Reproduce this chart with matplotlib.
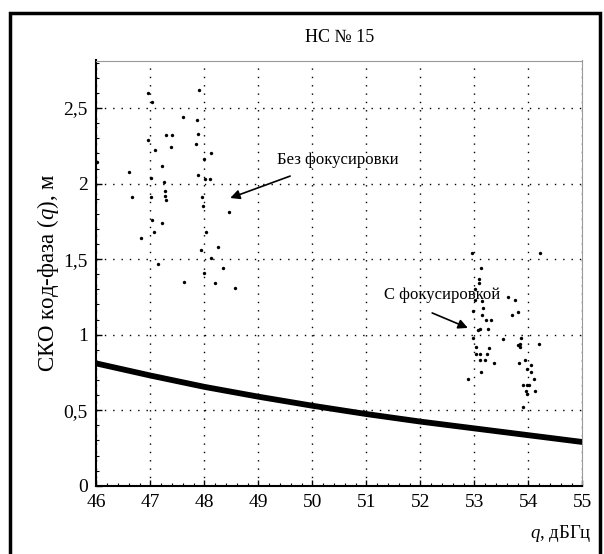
import matplotlib
matplotlib.use("Agg")
import matplotlib.pyplot as plt
from matplotlib.ticker import MultipleLocator, FixedLocator
from matplotlib.patches import Rectangle

plt.rcParams['font.family'] = ['Liberation Serif', 'DejaVu Serif']
plt.rcParams['mathtext.fontset'] = 'custom'
plt.rcParams['mathtext.it'] = 'Liberation Serif:italic'
plt.rcParams['mathtext.rm'] = 'Liberation Serif'

# "Без фокусировки" scatter
q_nofocus = [46.96, 47.03, 47.90, 47.61, 47.87, 46.96, 47.29, 47.41, 47.88, 47.08,
             47.38, 47.85, 48.12, 47.99, 46.01, 47.21, 46.61, 47.01, 47.88, 48.01,
             48.11, 47.25, 46.66, 47.01, 47.27, 47.27, 47.29, 47.95, 47.98, 48.45,
             47.04, 47.22, 47.07, 48.03, 46.83, 48.25, 47.93, 48.13, 47.14, 48.35,
             48.00, 47.62, 48.20, 48.56]
sko_nofocus = [2.60, 2.54, 2.62, 2.44, 2.42, 2.29, 2.32, 2.32, 2.33, 2.22,
               2.24, 2.26, 2.20, 2.16, 2.14, 2.12, 2.08, 2.04, 2.06, 2.03,
               2.03, 2.01, 1.91, 1.91, 1.95, 1.92, 1.89, 1.91, 1.85, 1.81,
               1.76, 1.74, 1.68, 1.68, 1.64, 1.58, 1.56, 1.51, 1.47, 1.44,
               1.41, 1.35, 1.34, 1.31]

# "С фокусировкой" scatter
q_focus = [52.96, 54.22, 53.12, 53.09, 53.08, 53.01, 53.01, 53.15, 53.16, 52.98,
           53.14, 53.21, 53.30, 53.63, 53.75, 53.81, 53.69, 53.11, 53.06, 53.25,
           52.98, 53.54, 53.87, 53.85, 54.20, 53.80, 53.85, 53.03, 53.27, 53.03,
           53.11, 53.23, 53.11, 53.19, 53.36, 53.94, 53.82, 54.05, 53.98, 54.05,
           53.13, 52.89, 54.11, 53.91, 53.98, 54.02, 53.95, 54.13, 53.98, 53.91]
sko_focus = [1.54, 1.54, 1.44, 1.37, 1.34, 1.30, 1.23, 1.22, 1.18, 1.16,
             1.13, 1.10, 1.10, 1.25, 1.23, 1.15, 1.13, 1.04, 1.03, 1.04,
             0.98, 0.97, 0.98, 0.94, 0.94, 0.93, 0.92, 0.92, 0.91, 0.87,
             0.87, 0.87, 0.83, 0.83, 0.81, 0.83, 0.81, 0.80, 0.77, 0.75,
             0.75, 0.71, 0.71, 0.67, 0.67, 0.67, 0.63, 0.63, 0.61, 0.52]

# theoretical curve
q_curve = [46, 47, 48, 49, 50, 51, 52, 53, 54, 55]
sko_curve = [0.81, 0.73, 0.655, 0.59, 0.53, 0.475, 0.425, 0.38, 0.335, 0.29]

x_ticks = [46, 47, 48, 49, 50, 51, 52, 53, 54, 55]
y_ticks = [0, 0.5, 1, 1.5, 2, 2.5]
y_tick_labels = ['0', '0,5', '1', '1,5', '2', '2,5']

W, H = 604, 554
fig = plt.figure(figsize=(W / 100, H / 100), dpi=100)
# outer frame
fig.patches.append(Rectangle((10 / W, -0.01), (600 - 10) / W, (H - 13) / H + 0.01,
                             transform=fig.transFigure, fill=False,
                             edgecolor='black', linewidth=2.5))

ax = fig.add_axes([96.3 / W, 1 - 485.8 / H, (582.3 - 96.3) / W, (485.8 - 60.5) / H])
ax.set_xlim(46, 55)
ax.set_ylim(0, 2.815)

ax.plot(q_curve, sko_curve, color='black', linewidth=4.2, solid_capstyle='butt', zorder=3)
ax.scatter(q_nofocus, sko_nofocus, s=6, color='black', zorder=4, linewidths=0)
ax.scatter(q_focus, sko_focus, s=6, color='black', zorder=4, linewidths=0)

ax.xaxis.set_major_locator(FixedLocator(x_ticks))
ax.yaxis.set_major_locator(FixedLocator(y_ticks))
ax.set_yticklabels(y_tick_labels)
ax.xaxis.set_minor_locator(MultipleLocator(0.2))
ax.yaxis.set_minor_locator(MultipleLocator(0.1))
ax.tick_params(axis='both', which='major', direction='in', length=4, width=1,
               labelsize=14, colors='black', pad=6)
ax.tick_params(axis='both', which='minor', direction='in', length=2, width=0.8)
ax.grid(True, which='major', linestyle=(0, (1, 5)), color='black', linewidth=1)

for side in ['left', 'bottom']:
    ax.spines[side].set_linewidth(1.5)
    ax.spines[side].set_color('black')
for side in ['top', 'right']:
    ax.spines[side].set_linewidth(0.8)
    ax.spines[side].set_color('#999999')

ax.set_title('НС № 15', fontsize=13, pad=13)
ax.set_ylabel('СКО код-фаза ($\\mathit{q}$), м', fontsize=16.5, labelpad=2)
fig.text(592 / W, 1 - 533 / H, '$\\mathit{q}$, дБГц', fontsize=13.5, ha='right', va='center')

ax.text(50.48, 2.157, 'Без фокусировки', fontsize=12, ha='center', va='center')
ax.annotate('', xy=(48.48, 1.905), xytext=(49.59, 2.05),
            arrowprops=dict(arrowstyle='-|>', color='black', lw=1.2,
                            mutation_scale=14, shrinkA=0, shrinkB=0))
ax.text(52.40, 1.264, 'С фокусировкой', fontsize=12, ha='center', va='center')
ax.annotate('', xy=(52.88, 1.045), xytext=(52.22, 1.144),
            arrowprops=dict(arrowstyle='-|>', color='black', lw=1.2,
                            mutation_scale=14, shrinkA=0, shrinkB=0))

fig.savefig('out.png', dpi=100, facecolor='white')
